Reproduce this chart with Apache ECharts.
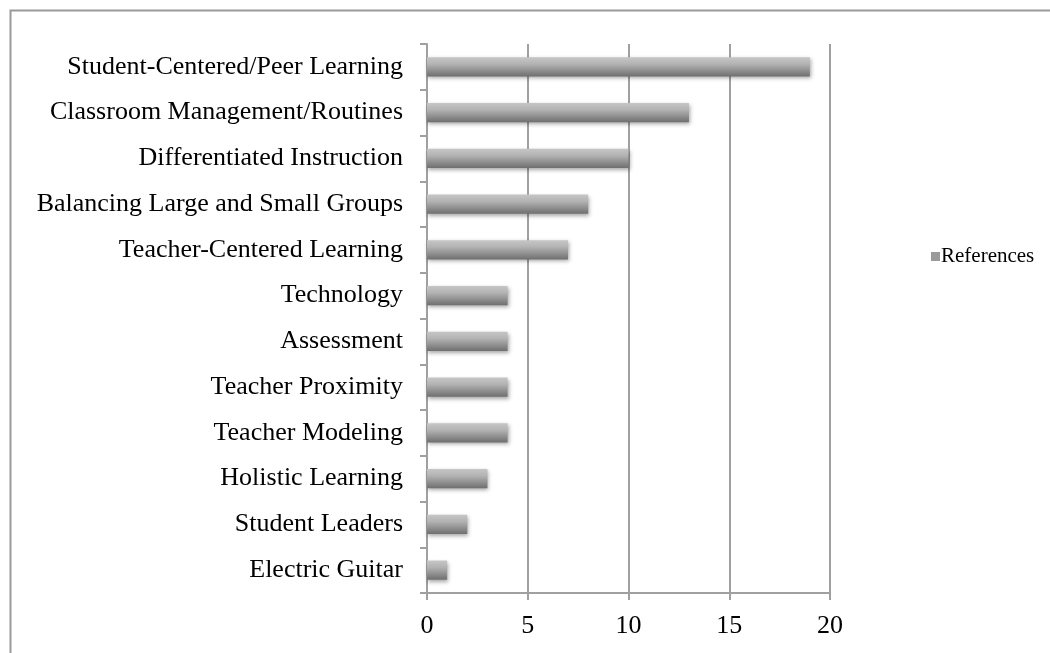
<!DOCTYPE html>
<html>
<head>
<meta charset="utf-8">
<style>html,body{margin:0;padding:0;background:#fff;}#c{width:1050px;height:653px;}</style>
<script src="https://cdn.jsdelivr.net/npm/echarts@6/dist/echarts.min.js"></script>
</head>
<body>
<div id="c"></div>
<script>
const categories = [
  "Student-Centered/Peer Learning",
  "Classroom Management/Routines",
  "Differentiated Instruction",
  "Balancing Large and Small Groups",
  "Teacher-Centered Learning",
  "Technology",
  "Assessment",
  "Teacher Proximity",
  "Teacher Modeling",
  "Holistic Learning",
  "Student Leaders",
  "Electric Guitar"
];
const references = [19, 13, 10, 8, 7, 4, 4, 4, 4, 3, 2, 1];
const seriesName = "References";

const chart = echarts.init(document.getElementById('c'));
const font = "'Liberation Serif', 'Times New Roman', serif";
const barGrad = new echarts.graphic.LinearGradient(0, 0, 0, 1, [
  {offset: 0, color: '#c6c6c6'},
  {offset: 0.35, color: '#b3b3b3'},
  {offset: 1, color: '#6f6f6f'}
]);
chart.setOption({
  animation: false,
  backgroundColor: '#fff',
  graphic: [{
    type: 'rect', left: 8, top: 8,
    shape: {width: 1100, height: 700},
    style: {fill: 'none', stroke: '#9a9a9a', lineWidth: 2}
  }],
  legend: {
    left: 926, top: 241, orient: 'vertical',
    itemWidth: 9, itemHeight: 9, itemGap: 4,
    textStyle: {fontFamily: font, fontSize: 21, color: '#000', padding: [0, 0, 0, -4]},
    data: [{name: seriesName, icon: 'rect', itemStyle: {color: '#9a9a9a'}}]
  },
  grid: {left: 427, right: 220, top: 44, bottom: 60},
  xAxis: {
    type: 'value', min: 0, max: 20, interval: 5,
    axisLine: {show: true, lineStyle: {color: '#a0a0a0', width: 2}},
    axisTick: {show: true, length: 7, lineStyle: {color: '#a0a0a0', width: 2}},
    splitLine: {show: true, lineStyle: {color: '#a0a0a0', width: 2}},
    axisLabel: {fontFamily: font, fontSize: 26, color: '#000', margin: 20}
  },
  yAxis: {
    type: 'category', inverse: true, data: categories,
    axisLine: {show: true, lineStyle: {color: '#a0a0a0', width: 2}},
    axisTick: {show: true, length: 7, lineStyle: {color: '#a0a0a0', width: 2}},
    axisLabel: {fontFamily: font, fontSize: 26, color: '#000', margin: 24}
  },
  series: [{
    name: seriesName, type: 'bar', data: references,
    barCategoryGap: '58%',
    itemStyle: {
      color: barGrad,
      shadowColor: 'rgba(0,0,0,0.35)', shadowBlur: 4, shadowOffsetX: 1, shadowOffsetY: 2
    }
  }]
});
</script>
</body>
</html>
